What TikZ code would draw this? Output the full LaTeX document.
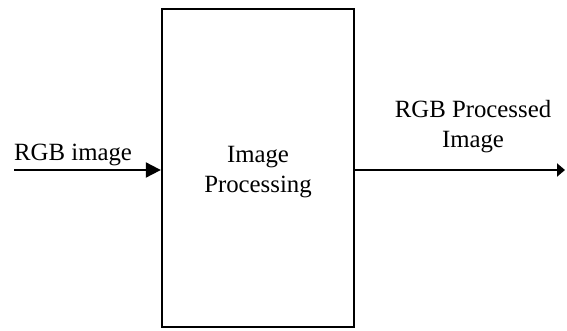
\documentclass[tikz,border=0pt]{standalone}
\usepackage{fontspec}
\setmainfont{Liberation Serif}
\usetikzlibrary{arrows.meta}
\begin{document}
\begin{tikzpicture}[x=1pt,y=-1pt,
  lbl/.style={font=\fontsize{24.8}{30}\selectfont, inner sep=0pt, align=center},
  block/.style={draw, line width=2.3pt, minimum width=192pt, minimum height=318pt, inner sep=0pt},
  flow/.style={line width=2pt}]
  \useasboundingbox (0,0) rectangle (567,330);
  % processing block
  \node[block] (proc) at (258,168) {};
  \node[lbl] (proctext) at (258,172) {Image\\Processing};
  % input and output ends
  \coordinate (in) at (14,170);
  \coordinate (out) at (565,170);
  \draw[flow, -{Triangle[length=15pt,width=15pt]}] (in) -- (in -| proc.west);
  \draw[flow, -{Triangle[length=8pt,width=13pt]}] (out -| proc.east) -- (out);
  % labels
  \node[lbl, anchor=base west] (inlabel) at (14,160) {RGB image};
  \node[lbl, anchor=base] (outlabel) at (473,117) {RGB Processed};
  \node[lbl, anchor=base] (outlabel2) at (473,147) {Image};
\end{tikzpicture}
\end{document}
